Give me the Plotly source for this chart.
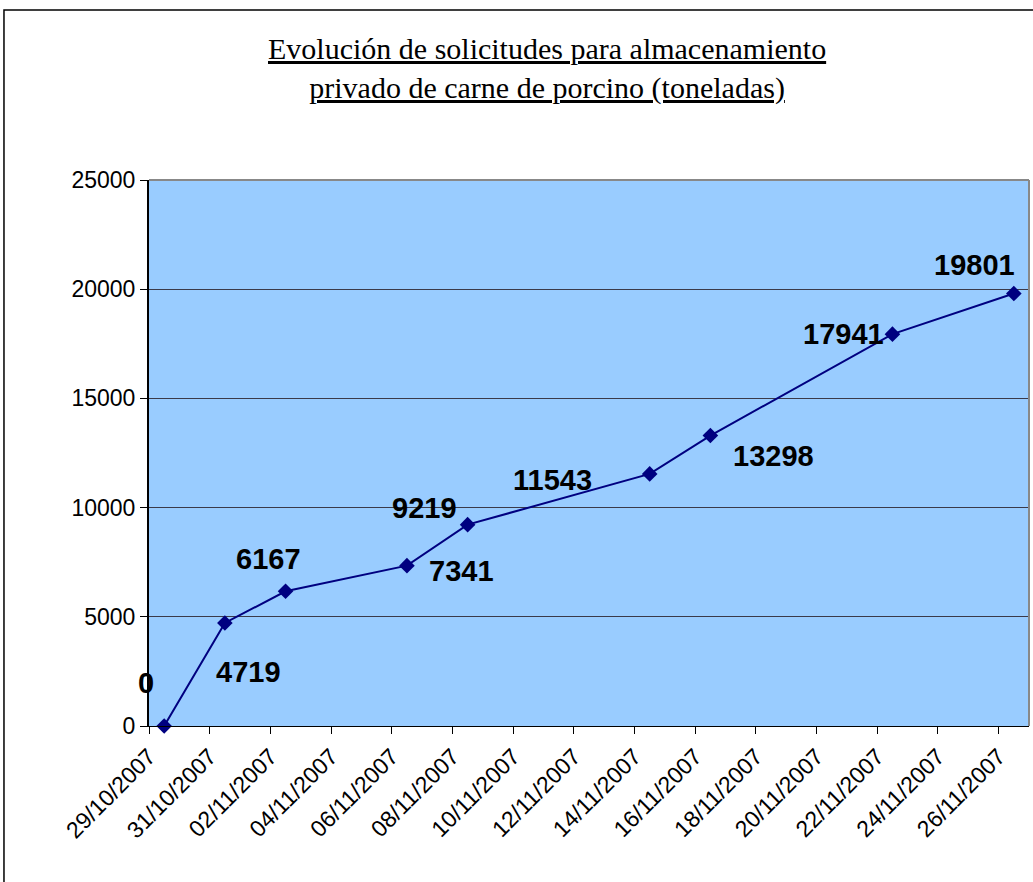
import pandas as pd
import plotly.graph_objects as go

# Fechas de las solicitudes y toneladas acumuladas
dates = ["2007-10-29", "2007-10-31", "2007-11-02", "2007-11-06", "2007-11-08",
         "2007-11-14", "2007-11-16", "2007-11-22", "2007-11-26"]
tonnes = [0, 4719, 6167, 7341, 9219, 11543, 13298, 17941, 19801]

y_ticks = [0, 5000, 10000, 15000, 20000, 25000]

# label placement relative to each point (px), kept apart from the data
label_shift = [(-18, 43), (24, -49), (-17, 32), (55, -5), (-43, 17),
               (-97, -6), (63, -20), (-49, 0), (-39, 29)]

title_text = ("Evolución de solicitudes para almacenamiento<br>"
              "privado de carne de porcino (toneladas)")

# Excel date axis puts points in the middle of each day
x_pts = pd.to_datetime(dates) + pd.Timedelta(hours=12)

fig = go.Figure()

fig.add_trace(go.Scatter(x=x_pts, y=tonnes,
                         mode='lines+markers',
                         line=dict(color='#000080', width=2),
                         marker=dict(symbol='diamond', size=12, color='#000080'),
                         cliponaxis=False,
                         showlegend=False))

for xv, yv, (dx, dy) in zip(x_pts, tonnes, label_shift):
    fig.add_annotation(x=xv, y=yv, xref='x', yref='y',
                       text="<b>{}</b>".format(yv),
                       showarrow=False,
                       xanchor='center', yanchor='middle',
                       xshift=dx, yshift=dy,
                       font=dict(family='Liberation Sans, Arial', size=29, color='black'))

# title as an annotation (handles the two lines better than layout.title)
fig.add_annotation(x=0.4523, y=1.275, xref='paper', yref='paper',
                   text=title_text, showarrow=False,
                   xanchor='center', yanchor='top', align='center',
                   font=dict(family='Liberation Serif, Times New Roman', size=30,
                             color='black', lineposition='under'))

# gray frame on the top and right of the plot area
fig.add_shape(type='line', xref='paper', yref='paper', x0=0, x1=1, y0=1, y1=1,
              line=dict(color='#888888', width=2), layer='above')
fig.add_shape(type='line', xref='paper', yref='paper', x0=1, x1=1, y0=0, y1=1,
              line=dict(color='#888888', width=2), layer='above')

# outer chart border
fig.add_shape(type='rect', xref='paper', yref='paper',
              x0=-0.1648, x1=1.02, y0=-0.3, y1=1.3114,
              line=dict(color='black', width=1.5), fillcolor='rgba(0,0,0,0)')

fig.update_layout(
    width=1033, height=882,
    margin=dict(l=149, r=4, t=180, b=156),
    paper_bgcolor='white',
    plot_bgcolor='#99CCFF',
    font=dict(family='Liberation Sans, Arial', color='black'),
)

fig.update_xaxes(type='date',
                 range=['2007-10-29', '2007-11-27'],
                 tick0='2007-10-29', dtick=2 * 86400000,
                 tickformat='%d/%m/%Y', tickangle=-45,
                 ticks='outside', ticklen=7, tickcolor='black',
                 showline=True, linecolor='black', linewidth=1,
                 showgrid=False, zeroline=False,
                 tickfont=dict(size=23))

fig.update_yaxes(range=[0, 25000], tickvals=y_ticks, tickformat='d',
                 ticks='outside', ticklen=7, tickcolor='black',
                 showline=True, linecolor='black', linewidth=2,
                 showgrid=True, gridcolor='#3a3a4a', gridwidth=1,
                 zeroline=False,
                 tickfont=dict(size=23))

# drop the default body margin so the figure sits at the page corner
fig.write_html("out.html", config={'displayModeBar': False},
               post_script="document.body.style.margin = '0px';")
